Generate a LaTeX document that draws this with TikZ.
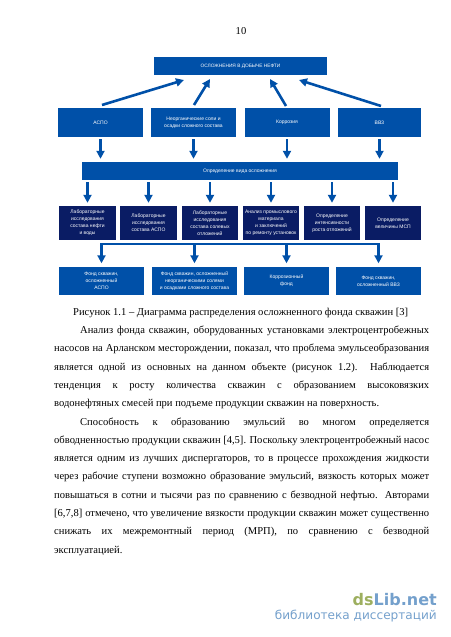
\documentclass[tikz,border=0pt]{standalone}
\usepackage{fontspec}
\setmainfont{Liberation Serif}
\newfontfamily\boxfont{Liberation Sans}
\newfontfamily\markfont{DejaVu Sans}
\usetikzlibrary{arrows.meta}
\definecolor{boxblue}{HTML}{0050A8}
\definecolor{boxnavy}{HTML}{0A1C64}
\definecolor{markgreen}{HTML}{9DAF5F}
\definecolor{markblue}{HTML}{74A0CC}
\newcommand{\fillline}[2]{\makebox[#1][s]{#2}}
\tikzset{
  blockbase/.style={rectangle, text=white, inner sep=0pt, align=center,
    font=\boxfont\fontsize{5}{6.9}\selectfont},
  headbox/.style={blockbase, fill=boxblue, minimum width=85pt, minimum height=29pt},
  fundbox/.style={blockbase, fill=boxblue, minimum width=85pt, minimum height=28pt},
  testbox/.style={blockbase, fill=boxnavy, minimum width=56.5pt, minimum height=34pt},
  flow/.style={boxblue, line width=2.6pt, -{Triangle[length=8pt,width=8pt]}},
  drop/.style={flow, shorten <=2pt, shorten >=3pt},
  bodyline/.style={anchor=west, inner sep=0pt, text height=7pt, text depth=2.5pt,
    font=\fontsize{10.55}{12}\selectfont}
}
\begin{document}
\begin{tikzpicture}[x=1pt,y=-1pt]
  \useasboundingbox (0,0) rectangle (450,637);
  \draw
    (241,32) node[bodyline,anchor=center] (page){10};
  % blocks
  \draw
    (240.5,66) node[blockbase,fill=boxblue,minimum width=173pt,minimum height=18pt,font=\boxfont\fontsize{4.8}{6.9}\selectfont] (top){ОСЛОЖНЕНИЯ В ДОБЫЧЕ НЕФТИ}
    (100.5,122.5) node[headbox] (aspo){АСПО}
    (193.5,122.5) node[headbox] (salt){Неорганические соли и\\осадки сложного состава}
    (287,122.5) node[headbox] (corr){Коррозия}
    (379.5,122.5) node[headbox,minimum width=83pt] (vvz){ВВЗ}
    (240,171) node[blockbase,fill=boxblue,minimum width=316pt,minimum height=18pt] (kind){Определение вида осложнения};
  \draw
    (87.5,223) node[testbox] (t1){Лабораторные\\исследования\\состава нефти\\и воды}
    (148.5,223) node[testbox] (t2){Лабораторные\\исследования\\состава АСПО}
    (210,223) node[testbox] (t3){Лабораторные\\исследования\\состава солевых\\отложений}
    (271,223) node[testbox] (t4){Анализ промыслового\\материала\\и заключений\\по ремонту установок}
    (332,223) node[testbox] (t5){Определение\\интенсивности\\роста отложений}
    (393,223) node[testbox] (t6){Определение\\величины МСП};
  \draw
    (101.5,281) node[fundbox] (f1){Фонд скважин,\\осложненный\\АСПО}
    (194.5,281) node[fundbox] (f2){Фонд скважин, осложненный\\неорганическими солями\\и осадками сложного состава}
    (286.5,281) node[fundbox] (f3){Коррозионный\\фонд}
    (378.5,281) node[fundbox] (f4){Фонд скважин,\\осложненный ВВЗ};
  % free ends of the arrows
  \coordinate (a1) at (102,105);
  \coordinate (a2) at (194,105);
  \coordinate (a3) at (286,106);
  \coordinate (a4) at (381,106);
  \coordinate (b1) at (184,80);
  \coordinate (b2) at (210,79);
  \coordinate (b3) at (270,79);
  \coordinate (b4) at (299,80);
  \coordinate (busa) at (101.5,244);
  \coordinate (busb) at (194.5,244);
  \coordinate (busc) at (286.5,244);
  \coordinate (busd) at (378.5,244);
  \begin{scope}[flow]
    \draw (a1) to (b1);
    \draw (a2) to (b2);
    \draw (a3) to (b3);
    \draw (a4) to (b4);
  \end{scope}
  \begin{scope}[drop]
    \draw (aspo.south) to (aspo.south |- kind.north);
    \draw (salt.south) to (salt.south |- kind.north);
    \draw (corr.south) to (corr.south |- kind.north);
    \draw (vvz.south) to (vvz.south |- kind.north);
    \draw (t1.north |- kind.south) to (t1.north);
    \draw (t2.north |- kind.south) to (t2.north);
    \draw (t3.north |- kind.south) to (t3.north);
    \draw (t4.north |- kind.south) to (t4.north);
    \draw (t5.north |- kind.south) to (t5.north);
    \draw (t6.north |- kind.south) to (t6.north);
  \end{scope}
  \draw[boxblue,line width=2.6pt,line cap=rect] (busa) -- (busd);
  \begin{scope}[flow,shorten >=3.5pt]
    \draw (busa) to (f1.north);
    \draw (busb) to (f2.north);
    \draw (busc) to (f3.north);
    \draw (busd) to (f4.north);
  \end{scope}
  % text of the page
  \draw
    (73,313) node[bodyline] (cap){Рисунок 1.1 – Диаграмма распределения осложненного фонда скважин [3]}
    (80,331) node[bodyline] (l1){\fillline{349pt}{Анализ фонда скважин, оборудованных установками электроцентробежных}}
    (54,349) node[bodyline] (l2){\fillline{375pt}{насосов на Арланском месторождении, показал, что проблема эмульсеобразования}}
    (54,368) node[bodyline] (l3){\fillline{375pt}{является одной из основных на данном объекте (рисунок 1.2). Наблюдается}}
    (54,386) node[bodyline] (l4){\fillline{375pt}{тенденция к росту количества скважин с образованием высоковязких}}
    (54,404) node[bodyline] (l5){водонефтяных смесей при подъеме продукции скважин на поверхность.}
    (80,423) node[bodyline] (l6){\fillline{349pt}{Способность к образованию эмульсий во многом определяется}}
    (54,441) node[bodyline] (l7){\fillline{375pt}{обводненностью продукции скважин [4,5]. Поскольку электроцентробежный насос}}
    (54,459) node[bodyline] (l8){\fillline{375pt}{является одним из лучших диспергаторов, то в процессе прохождения жидкости}}
    (54,477) node[bodyline] (l9){\fillline{375pt}{через рабочие ступени возможно образование эмульсий, вязкость которых может}}
    (54,496) node[bodyline] (l10){\fillline{375pt}{повышаться в сотни и тысячи раз по сравнению с безводной нефтью. Авторами}}
    (54,514) node[bodyline] (l11){\fillline{375pt}{[6,7,8] отмечено, что увеличение вязкости продукции скважин может существенно}}
    (54,532) node[bodyline] (l12){\fillline{375pt}{снижать их межремонтный период (МРП), по сравнению с безводной}}
    (54,551) node[bodyline] (l13){эксплуатацией.};
  % watermark
  \draw
    (437,600) node[anchor=east,inner sep=0pt,font=\markfont\bfseries\fontsize{16}{16}\selectfont] (mark){\textcolor{markgreen}{ds}\textcolor{markblue}{Lib.net}}
    (437,616.5) node[anchor=east,inner sep=0pt,text=markblue,font=\markfont\fontsize{12.1}{12}\selectfont] (sub){библиотека диссертаций};
\end{tikzpicture}
\end{document}
